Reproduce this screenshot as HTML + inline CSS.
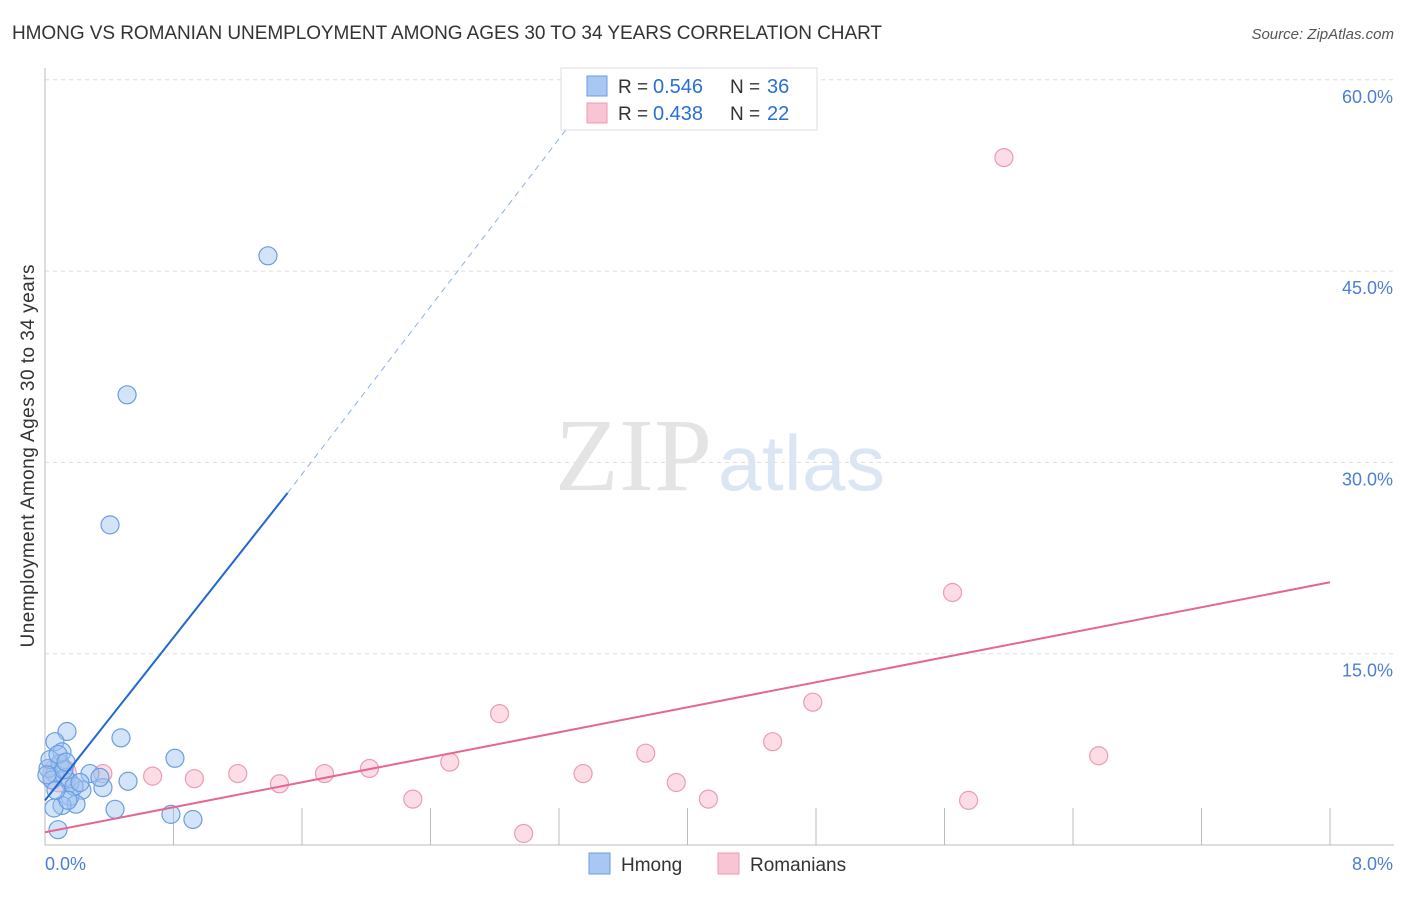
<!DOCTYPE html>
<html><head><style>
body{margin:0;background:#fff;font-family:"Liberation Sans",sans-serif}
</style></head><body>
<svg id="c" width="1406" height="892"></svg>
<script>
const hmongX=[1.388,0.511,0.405,0.137,0.062,0.473,0.809,0.106,0.280,0.517,0.361,0.230,0.156,0.062,0.019,0.093,0.125,0.156,0.193,0.106,0.056,0.436,0.784,0.921,0.081,0.031,0.044,0.118,0.181,0.143,0.068,0.012,0.081,0.131,0.218,0.342];
const hmongY=[46.2,35.3,25.1,8.9,8.1,8.4,6.8,7.3,5.6,5.0,4.5,4.3,4.9,5.6,6.0,6.4,5.3,3.8,3.2,3.1,2.9,2.8,2.4,2.0,1.2,6.7,5.1,5.9,4.6,3.5,4.3,5.5,7.1,6.5,4.9,5.3];
const romX=[5.97,5.65,4.78,2.83,4.53,6.56,3.74,2.52,2.02,1.74,1.20,3.35,0.67,0.93,0.36,1.46,3.93,2.29,4.13,5.75,2.98,0.09];
const romY=[53.9,19.8,11.2,10.3,8.1,7.0,7.2,6.5,6.0,5.6,5.6,5.6,5.4,5.2,5.6,4.8,4.9,3.6,3.6,3.5,0.9,5.5];
const yTicks=[15,30,45,60];
const hmongTrend=[[0,3.5],[1.51,27.6],[3.33,57.5]];
const romTrend=[[0,1.0],[8,20.6]];
const X=v=>45+v*1285/8, Y=v=>845-v*191.3/15;
const s=document.getElementById('c');const NS='http://www.w3.org/2000/svg';
function el(t,a,txt){const e=document.createElementNS(NS,t);for(const k in a)e.setAttribute(k,a[k]);if(txt!=null)e.textContent=txt;s.appendChild(e);return e;}
let e;
e=el('text',{x:12,y:39,'font-size':19,fill:'#333',textLength:870},'HMONG VS ROMANIAN UNEMPLOYMENT AMONG AGES 30 TO 34 YEARS CORRELATION CHART');

e=el('text',{x:1394,y:39,'font-size':15,fill:'#555','text-anchor':'end','font-style':'italic'},'Source: ZipAtlas.com');

yTicks.forEach(t=>{
 e=el('line',{x1:45,x2:1394,y1:Y(t),y2:Y(t),stroke:'#ddd','stroke-dasharray':'4,4'});
 
 e=el('text',{x:1393,y:Y(t)+23,'font-size':18,fill:'#4a7fd4','text-anchor':'end'},t.toFixed(1)+'%');
 
});
for(let i=1;i<=10;i++){const x=X(i*0.8);
 e=el('line',{x1:x,x2:x,y1:808,y2:845,stroke:'#bbb'});
 }
e=el('line',{x1:45,x2:45,y1:68,y2:845,stroke:'#bbb'});
e=el('line',{x1:45,x2:1394,y1:845,y2:845,stroke:'#bbb'});
e=el('text',{x:45,y:870,'font-size':18,fill:'#4a7fd4'},'0.0%');
e=el('text',{x:1393,y:870,'font-size':18,fill:'#4a7fd4','text-anchor':'end'},'8.0%');
e=el('text',{transform:'translate(34,456) rotate(-90)','font-size':19,fill:'#333','text-anchor':'middle',textLength:383},'Unemployment Among Ages 30 to 34 years');

e=el('text',{x:555,y:490,'font-size':104,fill:'#e4e4e4','font-family':'Liberation Serif',textLength:157},'ZIP');
e=el('text',{x:718,y:490,'font-size':78,fill:'#dbe6f5',textLength:167},'atlas');
romX.forEach((v,i)=>{e=el('circle',{cx:X(v),cy:Y(romY[i]),r:i==romX.length-1?17:9,fill:'rgba(248,180,200,0.45)',stroke:'#ec9ab5','stroke-width':1.2});
 });
hmongX.forEach((v,i)=>{e=el('circle',{cx:X(v),cy:Y(hmongY[i]),r:9,fill:'rgba(160,195,240,0.45)',stroke:'#6a9de3','stroke-width':1.2});
 });
e=el('line',{x1:X(hmongTrend[0][0]),y1:Y(hmongTrend[0][1]),x2:X(hmongTrend[1][0]),y2:Y(hmongTrend[1][1]),stroke:'#2266d0','stroke-width':2});

e=el('line',{x1:X(hmongTrend[1][0]),y1:Y(hmongTrend[1][1]),x2:X(hmongTrend[2][0]),y2:Y(hmongTrend[2][1]),stroke:'#8ab0e6','stroke-width':1,'stroke-dasharray':'6,5'});

e=el('line',{x1:X(romTrend[0][0]),y1:Y(romTrend[0][1]),x2:X(romTrend[1][0]),y2:Y(romTrend[1][1]),stroke:'#e5668f','stroke-width':2});

e=el('rect',{x:561,y:68,width:256,height:62,fill:'#fff',stroke:'#ddd'});
[[0.546,36,'#a8c8f3','#6a9de3',86],[0.438,22,'#f9c4d3','#ec9ab5',113]].forEach(r=>{
 e=el('rect',{x:587,y:r[4]-10,width:20,height:20,fill:r[2],stroke:r[3]});
 e=el('text',{x:618,y:r[4]+7,'font-size':19,fill:'#333'},'R = ');
 e=el('text',{x:653,y:r[4]+7,'font-size':20,fill:'#2a6fd6'},r[0].toFixed(3));
 e=el('text',{x:730,y:r[4]+7,'font-size':19,fill:'#333'},'N = ');
 e=el('text',{x:767,y:r[4]+7,'font-size':20,fill:'#2a6fd6'},String(r[1]));
});
[[589,'#a8c8f3','#6a9de3','Hmong'],[718,'#f9c4d3','#ec9ab5','Romanians']].forEach(r=>{
 e=el('rect',{x:r[0],y:853,width:21,height:21,fill:r[1],stroke:r[2]});
 e=el('text',{x:r[0]+32,y:871,'font-size':19,fill:'#333'},r[3]);
});
</script>
</body></html>
